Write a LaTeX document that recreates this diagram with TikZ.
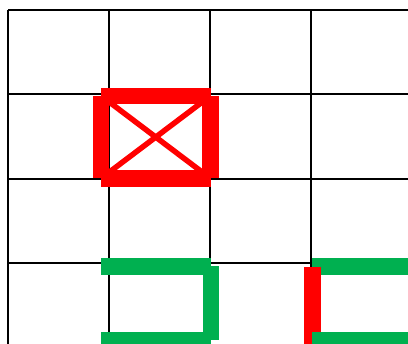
\documentclass[tikz,border=0pt]{standalone}
\definecolor{wallred}{RGB}{255,0,0}
\definecolor{wallgreen}{RGB}{0,176,80}
\tikzset{
  gridline/.style={black, line width=2.2pt},
  wall/.style={line width=16.4pt, line cap=butt},
  cross/.style={wallred, line width=5.5pt, line cap=butt},
}
\begin{document}
\begin{tikzpicture}[x=1pt,y=-1pt]
\useasboundingbox (0,0) rectangle (408,344);
\clip (0,0) rectangle (408,344);
% grid
\foreach \x in {8,109,210,311,412} \draw[gridline] (\x,10) -- (\x,360);
\foreach \y in {10,94.3,178.7,263,347.3} \draw[gridline] (8,\y) -- (420,\y);
% red box with cross
\coordinate (rtl) at (101,95.8);
\coordinate (rtr) at (210.5,95.8);
\coordinate (rbr) at (210.5,178.4);
\coordinate (rbl) at (101,178.4);
\draw[cross] (rtl) -- (rbr);
\draw[cross] (rtr) -- (rbl);
\draw[wall,wallred] (rtl) -- (rtr);
\draw[wall,wallred] (rbl) -- (rbr);
\draw[wall,wallred] (rtl) -- (rbl);
\draw[wall,wallred] (rtr) -- (rbr);
% green bracket
\coordinate (gtl) at (101,266.5);
\coordinate (gtr) at (210.7,266.5);
\coordinate (gbr) at (210.7,340.2);
\coordinate (gbl) at (101,340.2);
\draw[wall,wallgreen] (gtl) -- (gtr);
\draw[wall,wallgreen] (gbl) -- (gbr);
\draw[wall,wallgreen] (gtr) -- (gbr);
% bottom right
\coordinate (ctl) at (312.4,266.5);
\coordinate (ctr) at (430,266.5);
\coordinate (cbl) at (312.4,340.2);
\coordinate (cbr) at (430,340.2);
\coordinate (rv0) at (312.6,266.7);
\coordinate (rv1) at (312.6,360);
\draw[wall,wallgreen] (ctl) -- (ctr);
\draw[wall,wallred] (rv0) -- (rv1);
\draw[wall,wallgreen] (cbl) -- (cbr);
\end{tikzpicture}
\end{document}
